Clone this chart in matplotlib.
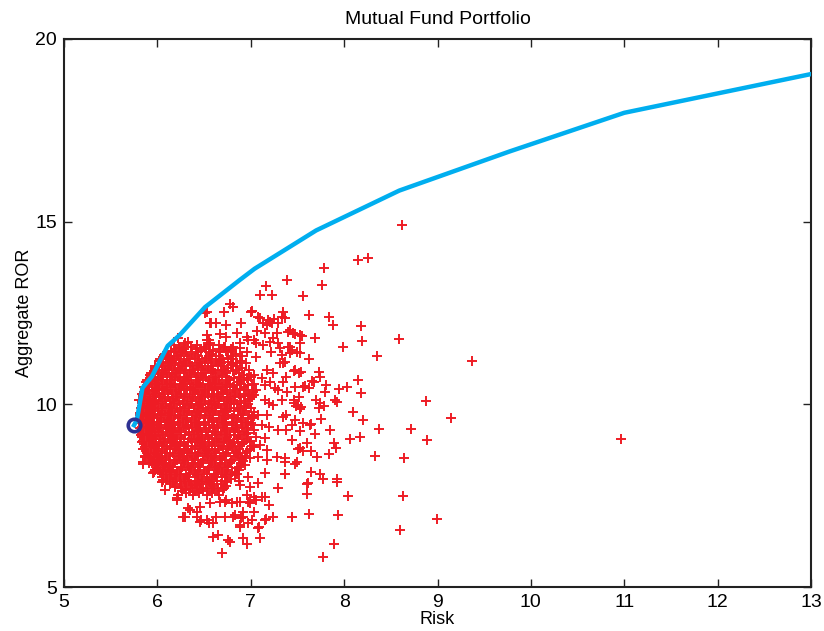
import numpy as np
import matplotlib
matplotlib.use("Agg")
import matplotlib.pyplot as plt

plt.rcParams['font.family'] = ['Liberation Sans', 'DejaVu Sans']

# efficient frontier (risk, return)
front_risk = [5.75, 5.78, 5.84, 5.94, 6.11, 6.24, 6.51, 6.88, 7.04, 7.70, 8.59, 9.77, 11.0, 13.0]
front_ror = [9.43, 9.57, 10.45, 10.76, 11.60, 11.90, 12.66, 13.40, 13.71, 14.76, 15.85, 16.92, 17.98, 19.04]

# minimum variance portfolio
minvar_risk = 5.75
minvar_ror = 9.43

# random portfolios - dense core, one row per return level
core_rows = {
    11.62: [6.18, 6.29, 6.42, 6.55, 6.66],
    11.52: [6.19, 6.29, 6.41, 6.52, 6.66, 6.79],
    11.43: [6.10, 6.20, 6.31, 6.43, 6.55, 6.67, 6.80],
    11.33: [6.11, 6.21, 6.32, 6.43, 6.55, 6.66, 6.79, 6.91],
    11.24: [6.03, 6.12, 6.23, 6.34, 6.45, 6.57, 6.69, 6.81],
    11.14: [6.05, 6.14, 6.24, 6.35, 6.46, 6.57, 6.68, 6.81, 6.95],
    11.05: [5.97, 6.06, 6.15, 6.26, 6.37, 6.48, 6.59, 6.71, 6.84],
    10.95: [5.99, 6.08, 6.18, 6.28, 6.38, 6.49, 6.60, 6.71, 6.84, 6.98],
    10.86: [5.93, 6.01, 6.10, 6.20, 6.30, 6.40, 6.51, 6.62, 6.74, 6.87],
    10.76: [5.95, 6.04, 6.13, 6.22, 6.32, 6.42, 6.52, 6.63, 6.75, 6.87, 7.00],
    10.67: [5.89, 5.97, 6.05, 6.14, 6.24, 6.34, 6.44, 6.55, 6.66, 6.77, 6.90],
    10.57: [5.91, 6.00, 6.08, 6.17, 6.27, 6.36, 6.46, 6.56, 6.67, 6.78, 6.90, 7.03],
    10.48: [5.86, 5.94, 6.02, 6.10, 6.19, 6.29, 6.38, 6.48, 6.59, 6.69, 6.81, 6.93],
    10.38: [5.89, 5.97, 6.05, 6.14, 6.23, 6.32, 6.41, 6.51, 6.61, 6.72, 6.83, 6.95, 7.06],
    10.29: [5.84, 5.91, 5.99, 6.07, 6.16, 6.25, 6.35, 6.44, 6.54, 6.64, 6.75, 6.87, 6.98],
    10.19: [5.87, 5.95, 6.03, 6.11, 6.20, 6.29, 6.38, 6.48, 6.58, 6.68, 6.78, 6.89, 7.01],
    10.10: [5.83, 5.90, 5.97, 6.05, 6.14, 6.23, 6.32, 6.41, 6.51, 6.61, 6.71, 6.82, 6.94],
    10.00: [5.86, 5.94, 6.01, 6.09, 6.18, 6.27, 6.36, 6.45, 6.55, 6.65, 6.75, 6.85, 6.97],
    9.91: [5.82, 5.89, 5.96, 6.04, 6.12, 6.21, 6.30, 6.39, 6.49, 6.58, 6.68, 6.78, 6.89, 7.00],
    9.81: [5.85, 5.93, 6.01, 6.08, 6.16, 6.25, 6.34, 6.43, 6.52, 6.62, 6.72, 6.82, 6.93],
    9.72: [5.81, 5.88, 5.95, 6.03, 6.11, 6.19, 6.28, 6.37, 6.46, 6.56, 6.66, 6.76, 6.86, 6.98],
    9.62: [5.85, 5.93, 6.00, 6.07, 6.15, 6.24, 6.32, 6.41, 6.51, 6.60, 6.70, 6.80, 6.90, 7.01],
    9.53: [5.81, 5.88, 5.95, 6.02, 6.10, 6.18, 6.27, 6.36, 6.45, 6.55, 6.64, 6.74, 6.84, 6.95],
    9.43: [5.85, 5.93, 6.00, 6.08, 6.16, 6.24, 6.33, 6.42, 6.51, 6.61, 6.70, 6.80, 6.91, 7.02],
    9.34: [5.81, 5.88, 5.95, 6.03, 6.11, 6.19, 6.28, 6.37, 6.46, 6.55, 6.65, 6.75, 6.85, 6.96],
    9.24: [5.85, 5.94, 6.01, 6.09, 6.17, 6.25, 6.34, 6.43, 6.52, 6.62, 6.72, 6.82, 6.93],
    9.15: [5.82, 5.89, 5.97, 6.05, 6.13, 6.21, 6.30, 6.39, 6.48, 6.58, 6.68, 6.78, 6.89],
    9.05: [5.86, 5.95, 6.03, 6.11, 6.19, 6.28, 6.36, 6.45, 6.55, 6.64, 6.74, 6.85, 6.96],
    8.96: [5.83, 5.91, 5.99, 6.07, 6.15, 6.24, 6.33, 6.42, 6.51, 6.61, 6.71, 6.82, 6.93],
    8.86: [5.88, 5.97, 6.05, 6.13, 6.22, 6.31, 6.40, 6.49, 6.58, 6.68, 6.78, 6.89, 7.01],
    8.77: [5.85, 5.93, 6.01, 6.10, 6.19, 6.28, 6.37, 6.46, 6.55, 6.65, 6.76, 6.87, 6.99],
    8.67: [5.90, 5.99, 6.08, 6.17, 6.26, 6.35, 6.44, 6.53, 6.63, 6.73, 6.84, 6.95],
    8.58: [5.87, 5.96, 6.05, 6.14, 6.23, 6.32, 6.41, 6.51, 6.61, 6.71, 6.82, 6.94],
    8.48: [5.93, 6.03, 6.12, 6.21, 6.30, 6.40, 6.49, 6.59, 6.69, 6.80, 6.91],
    8.39: [5.91, 6.00, 6.09, 6.18, 6.28, 6.38, 6.47, 6.57, 6.67, 6.78, 6.90],
    8.29: [5.98, 6.08, 6.17, 6.26, 6.36, 6.46, 6.55, 6.65, 6.76, 6.87],
    8.20: [5.97, 6.06, 6.15, 6.25, 6.34, 6.44, 6.54, 6.64, 6.75, 6.87],
    8.10: [6.05, 6.15, 6.24, 6.34, 6.43, 6.53, 6.63, 6.74, 6.85],
    8.01: [6.05, 6.14, 6.24, 6.33, 6.43, 6.53, 6.63, 6.74],
    7.91: [6.13, 6.24, 6.34, 6.44, 6.54, 6.64, 6.75, 6.87],
    7.82: [6.14, 6.25, 6.36, 6.46, 6.57, 6.68],
    7.72: [6.25, 6.37, 6.49, 6.60, 6.71],
    7.63: [6.26, 6.40, 6.53, 6.65],
    7.53: [6.38, 6.53, 6.66],
}

# more core portfolios, in between the rows above
core_rows_mid = {
    11.57: [6.23, 6.36, 6.50, 6.71],
    11.47: [6.15, 6.26, 6.47, 6.60, 6.73],
    11.38: [6.08, 6.25, 6.37, 6.59, 6.84],
    11.28: [6.09, 6.18, 6.40, 6.52, 6.76],
    11.19: [6.02, 6.16, 6.29, 6.51, 6.63, 6.88],
    11.09: [6.02, 6.11, 6.31, 6.42, 6.65, 6.79],
    11.00: [5.97, 6.12, 6.22, 6.43, 6.54, 6.76, 6.91],
    10.90: [5.96, 6.05, 6.24, 6.35, 6.57, 6.68, 6.81],
    10.81: [5.92, 6.06, 6.16, 6.36, 6.47, 6.69, 6.93],
    10.71: [5.92, 6.01, 6.19, 6.29, 6.49, 6.60, 6.82, 6.96],
    10.62: [5.88, 6.00, 6.10, 6.30, 6.41, 6.62, 6.73, 6.88],
    10.52: [5.89, 5.98, 6.15, 6.25, 6.44, 6.54, 6.75, 6.97],
    10.43: [5.87, 6.00, 6.06, 6.25, 6.35, 6.55, 6.65, 6.88],
    10.33: [5.86, 5.95, 6.11, 6.20, 6.40, 6.50, 6.70, 6.81, 7.02],
    10.24: [5.85, 5.96, 6.02, 6.21, 6.30, 6.51, 6.61, 6.83, 6.93],
    10.14: [5.85, 5.92, 6.08, 6.17, 6.37, 6.46, 6.66, 6.76, 6.99],
    10.05: [5.84, 5.93, 5.99, 6.18, 6.27, 6.47, 6.57, 6.79, 6.90],
    9.95: [5.84, 5.91, 6.06, 6.15, 6.34, 6.44, 6.63, 6.73, 6.95],
    9.86: [5.83, 5.92, 5.97, 6.15, 6.24, 6.44, 6.54, 6.75, 6.86],
    9.77: [5.83, 5.90, 6.05, 6.13, 6.32, 6.42, 6.60, 6.70, 6.92],
    9.67: [5.83, 5.91, 5.96, 6.14, 6.22, 6.41, 6.51, 6.72, 6.82, 7.03],
    9.58: [5.83, 5.90, 6.04, 6.12, 6.31, 6.40, 6.59, 6.69, 6.90],
    9.48: [5.83, 5.91, 5.96, 6.13, 6.22, 6.40, 6.50, 6.71, 6.81, 7.00],
    9.39: [5.83, 5.90, 6.04, 6.13, 6.31, 6.41, 6.60, 6.70, 6.91],
    9.29: [5.83, 5.92, 5.97, 6.14, 6.23, 6.42, 6.52, 6.72, 6.83, 7.03],
    9.20: [5.84, 5.91, 6.06, 6.15, 6.34, 6.44, 6.63, 6.73, 6.95],
    9.10: [5.84, 5.93, 5.99, 6.16, 6.25, 6.44, 6.54, 6.75, 6.86],
    9.01: [5.85, 5.93, 6.08, 6.17, 6.37, 6.46, 6.66, 6.77, 6.99],
    8.91: [5.86, 5.95, 6.02, 6.19, 6.28, 6.48, 6.58, 6.79, 6.91],
    8.82: [5.87, 5.96, 6.10, 6.20, 6.40, 6.50, 6.70, 6.81, 7.03],
    8.72: [5.88, 5.98, 6.05, 6.23, 6.33, 6.52, 6.62, 6.84, 6.96],
    8.63: [5.90, 6.00, 6.14, 6.24, 6.44, 6.54, 6.74, 6.86],
    8.53: [5.92, 6.02, 6.09, 6.27, 6.37, 6.57, 6.67, 6.88, 6.99],
    8.44: [5.95, 6.05, 6.19, 6.29, 6.49, 6.59, 6.79, 6.92],
    8.34: [5.97, 6.07, 6.14, 6.33, 6.43, 6.62, 6.72, 6.94],
    8.25: [6.01, 6.11, 6.25, 6.36, 6.55, 6.66, 6.85],
    8.15: [6.03, 6.13, 6.21, 6.40, 6.50, 6.69, 6.80],
    8.06: [6.09, 6.19, 6.31, 6.42, 6.61, 6.72, 6.83],
    7.96: [6.10, 6.20, 6.29, 6.48, 6.59, 6.79],
    7.87: [6.17, 6.30, 6.40, 6.52, 6.72],
    7.77: [6.19, 6.31, 6.42, 6.61, 6.74],
    7.67: [6.31, 6.47, 6.59, 6.70],
    7.58: [6.31, 6.45, 6.58],
}

# random portfolios - scattered ones around the core
scatter_pts = [
    (8.62, 14.91), (8.15, 13.95), (8.26, 14.00), (7.78, 13.74), (7.39, 13.40), (7.76, 13.26),
    (7.56, 12.96), (7.34, 12.53), (7.37, 12.35), (7.62, 12.44), (7.84, 12.39), (7.88, 12.16),
    (8.18, 12.14), (8.19, 11.73), (8.59, 11.78), (7.99, 11.56), (8.35, 11.32), (9.37, 11.20),
    (7.40, 11.98), (7.45, 11.95), (7.47, 11.93), (7.53, 11.90), (7.55, 11.86), (7.69, 11.82),
    (7.40, 11.56), (7.42, 11.40), (7.53, 11.41), (7.62, 11.23), (7.34, 11.12), (7.46, 10.92),
    (7.52, 10.85), (7.73, 10.88), (7.74, 10.76), (7.66, 10.64), (7.68, 10.60), (7.81, 10.54),
    (7.58, 10.51), (7.62, 10.45), (7.94, 10.41), (8.03, 10.47), (8.15, 10.66), (7.79, 10.34),
    (8.18, 10.30), (7.39, 10.34), (7.33, 10.12), (7.52, 10.21), (7.46, 10.04), (7.48, 9.95),
    (7.53, 9.86), (7.70, 10.12), (7.74, 10.04), (7.78, 9.96), (7.73, 9.89), (7.90, 10.11),
    (7.92, 10.07), (8.88, 10.09), (8.09, 9.78), (8.20, 9.57), (9.14, 9.62), (7.75, 9.61),
    (8.37, 9.32), (8.72, 9.32), (7.85, 9.30), (7.65, 9.46), (7.63, 9.43), (7.69, 9.18),
    (7.53, 9.27), (8.89, 9.03), (8.06, 9.04), (8.17, 9.10), (7.89, 8.95), (7.91, 8.81),
    (7.44, 9.02), (7.60, 8.95), (7.51, 8.77), (7.56, 8.73), (7.64, 8.72), (7.71, 8.55),
    (7.84, 8.63), (8.33, 8.58), (8.64, 8.53), (7.37, 8.43), (7.47, 8.38), (7.37, 8.08),
    (7.65, 8.14), (7.74, 8.09), (7.77, 7.95), (7.92, 7.97), (7.92, 7.87), (7.60, 7.81),
    (7.61, 7.84), (7.60, 7.54), (8.04, 7.49), (8.63, 7.49), (7.44, 6.93), (7.62, 6.99),
    (7.93, 6.97), (8.99, 6.87), (8.60, 6.56), (7.89, 6.19), (7.77, 5.83), (10.96, 9.05),
    (7.16, 13.24), (7.10, 12.99), (7.23, 12.99), (6.78, 12.75), (6.81, 12.66), (6.71, 12.53),
    (6.53, 12.52), (7.00, 12.53), (7.33, 12.40), (7.10, 12.35), (7.18, 12.31), (7.23, 12.22),
    (7.17, 12.17), (7.25, 12.33), (6.56, 12.24), (6.63, 12.22), (6.74, 12.17), (6.90, 12.22),
    (7.07, 12.01), (7.15, 11.94), (7.28, 11.96), (7.24, 11.81), (6.67, 11.92), (6.74, 11.85),
    (6.85, 11.94), (6.96, 11.85), (7.03, 11.76), (6.22, 11.82), (6.33, 11.71), (6.23, 11.53),
    (6.53, 11.76), (6.56, 11.67), (6.81, 11.58), (6.88, 11.53), (6.80, 11.49), (7.13, 11.62),
    (7.22, 11.44), (7.31, 11.53), (7.42, 11.58), (7.44, 11.49), (6.96, 11.44), (7.06, 11.30),
    (7.01, 12.56), (7.08, 12.40), (7.21, 12.26), (7.13, 12.22), (7.29, 12.22), (7.42, 12.03),
    (6.97, 11.76), (6.88, 11.67), (7.06, 11.67), (7.21, 11.71), (7.29, 11.67), (7.53, 11.67),
    (7.49, 11.44), (6.72, 11.58), (7.33, 11.35), (7.37, 11.17), (7.31, 11.12), (7.47, 10.94),
    (7.54, 10.89), (6.67, 11.21), (6.76, 11.17), (6.85, 11.12), (6.69, 10.94), (7.17, 10.94),
    (7.24, 10.85), (7.04, 10.80), (7.38, 10.76), (7.12, 10.71), (6.97, 10.67),
    (6.63, 10.57), (6.74, 10.48), (6.85, 10.53), (7.01, 10.53), (7.15, 10.53), (7.21, 10.62),
    (7.35, 10.62), (7.29, 10.39), (7.26, 10.44), (7.47, 10.48), (7.56, 10.48), (6.97, 10.25),
    (7.04, 10.25), (7.15, 10.12), (7.19, 10.03), (7.24, 9.98), (7.46, 10.12), (7.51, 9.98),
    (7.54, 9.93), (7.04, 9.80), (7.08, 9.71), (7.17, 9.71), (7.35, 9.66), (7.38, 9.71),
    (7.47, 9.57), (7.56, 9.48), (7.01, 9.66), (6.97, 9.48), (7.12, 9.43), (7.19, 9.39),
    (7.29, 9.30), (7.38, 9.30), (7.44, 9.43), (6.97, 9.21), (7.06, 9.11), (7.15, 9.07),
    (7.44, 9.02), (7.53, 8.80), (7.10, 8.89), (7.17, 8.75), (7.28, 8.57), (7.37, 8.52),
    (7.49, 8.43), (7.08, 8.57), (7.17, 8.48),
    (7.37, 8.09), (7.29, 7.70), (7.19, 7.24), (7.15, 7.47), (7.03, 7.47), (7.06, 7.38),
    (6.96, 7.52), (6.88, 7.33), (6.80, 7.29), (6.72, 7.33), (6.99, 7.29), (7.03, 7.06),
    (6.92, 7.06), (6.83, 6.97), (6.72, 6.92), (7.24, 6.92), (7.15, 6.83), (7.01, 6.83),
    (6.90, 6.88), (7.08, 6.61), (6.88, 6.70), (6.97, 6.74), (7.44, 6.92), (6.65, 6.42),
    (6.76, 6.29), (6.78, 6.24), (6.92, 6.33), (6.96, 6.19), (7.10, 6.33), (6.69, 5.92),
    (6.69, 8.02), (6.83, 8.11), (6.97, 8.02), (7.15, 8.11), (6.88, 7.79), (6.99, 7.74),
    (7.08, 7.84), (7.12, 7.47), (6.97, 7.33),
    (5.96, 8.16), (6.06, 7.93), (6.08, 7.65), (6.19, 7.75), (6.22, 7.52), (6.21, 7.38),
    (6.31, 7.65), (6.38, 7.61), (6.42, 7.79), (6.55, 7.88), (6.35, 7.11), (6.30, 6.92),
    (6.42, 7.06), (6.47, 6.83), (6.55, 6.74), (6.60, 6.38), (6.46, 7.20), (6.56, 7.29),
    (6.67, 7.33), (6.74, 7.38), (6.85, 7.33), (6.63, 6.92), (6.53, 6.83), (6.60, 6.74),
    (6.42, 6.92), (6.81, 6.91), (6.92, 6.92), (7.16, 6.85), (7.09, 6.63), (6.88, 6.65),
    (6.51, 12.51), (6.57, 12.23), (6.53, 11.90), (6.55, 11.76), (6.30, 11.67), (6.11, 11.17),
    (6.01, 11.01), (6.19, 11.08), (6.12, 11.14), (5.94, 10.57), (5.80, 10.12), (5.81, 9.75),
    (5.85, 8.43), (5.87, 8.57), (5.85, 8.38), (5.95, 8.12), (6.05, 7.88), (6.21, 7.43),
    (6.33, 7.16), (6.27, 6.92), (6.46, 6.79),
]

risk, ror = [], []
for rows in (core_rows, core_rows_mid):
    for y, xs in rows.items():
        risk += xs
        ror += [y] * len(xs)
risk += [p[0] for p in scatter_pts]
ror += [p[1] for p in scatter_pts]

fig = plt.figure(figsize=(8.24, 6.31), dpi=100)
ax = fig.add_axes([0.0777, 0.0697, 0.9065, 0.8685])

ax.plot(risk, ror, '+', color='#ee1c25', markersize=7.5, markeredgewidth=1.4, zorder=2)
ax.plot(front_risk, front_ror, '-', color='#00aeef', linewidth=3.2, zorder=3)
ax.plot(minvar_risk, minvar_ror, 'o', markerfacecolor='none', markeredgecolor='#2e3192',
        markersize=9, markeredgewidth=2.6, zorder=4)

ax.set_xlim(5, 13)
ax.set_ylim(5, 20)
ax.set_xticks(np.arange(5, 14, 1))
ax.set_yticks([5, 10, 15, 20])
ax.tick_params(direction='in', length=6, width=1, top=True, right=True,
               labelsize=14, pad=5, colors='#222222', labelcolor='black')
for s in ax.spines.values():
    s.set_linewidth(1.5)
    s.set_color('#222222')

ax.set_title('Mutual Fund Portfolio', fontsize=14, pad=11)
ax.set_xlabel('Risk', fontsize=13, labelpad=0)
ax.set_ylabel('Aggregate ROR', fontsize=13, labelpad=2)

fig.savefig('out.png', dpi=100)
